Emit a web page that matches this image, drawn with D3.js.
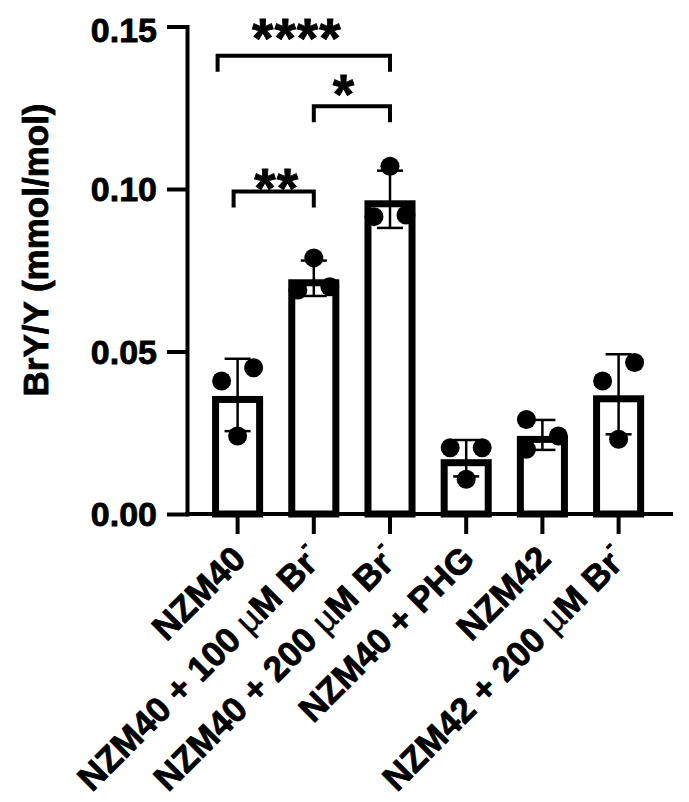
<!DOCTYPE html>
<html>
<head>
<meta charset="utf-8">
<script src="https://cdn.jsdelivr.net/npm/d3@7"></script>
<style>
  body { margin: 0; background: #fff; }
  text { font-family: "Liberation Sans", Arial, sans-serif; font-weight: bold; fill: #000; stroke: #000; stroke-width: 0.8px; }
</style>
</head>
<body>
<div id="chart-area"></div>
<script>
// groups on the x axis
const categories = ["NZM40", "NZM40 + 100 µM Br", "NZM40 + 200 µM Br", "NZM40 + PHG", "NZM42", "NZM42 + 200 µM Br"]
// replicate values per group (BrY/Y, mmol/mol)
const nzm40 = [0.0409, 0.0450, 0.0240]
const nzm40Br100 = [0.0788, 0.0689, 0.0699]
const nzm40Br200 = [0.1070, 0.0915, 0.0920]
const nzm40Phg = [0.0204, 0.0204, 0.0107]
const nzm42 = [0.0291, 0.0240, 0.0199]
const nzm42Br200 = [0.0409, 0.0466, 0.0230]
const yTicks = [0, 0.05, 0.10, 0.15]
// significance brackets: from group, to group, stars, bracket height
const comparisons = [
    {from: 0, to: 1, label: "**", level: 0.0992},
    {from: 1, to: 2, label: "*", level: 0.1255},
    {from: 0, to: 2, label: "****", level: 0.1410}
]

const groups = [nzm40, nzm40Br100, nzm40Br200, nzm40Phg, nzm42, nzm42Br200]
const data = categories.map((c, i) => ({
    name: c,
    values: groups[i],
    mean: d3.mean(groups[i]),
    sd: d3.deviation(groups[i])
}))

// layout
const W = 689, H = 802
const MARGIN = {LEFT: 187, TOP: 0}
const PLOT_W = 486
const FONT = 35
const AXIS_W = 4, BAR_STROKE = 7, R = 9.5, SPREAD = 16
// bracket tweaks (px): left-leg nudge, star x shift, star baseline below bracket
const BRACKET_STYLE = [
    {leg: -4, dx: 1, dy: 15},
    {leg: 0, dx: -8, dy: 7},
    {leg: -20, dx: -17, dy: 1}
]

const svg = d3.select("#chart-area").append("svg")
    .attr("width", W)
    .attr("height", H)

const g = svg.append("g")
    .attr("transform", `translate(${MARGIN.LEFT}, ${MARGIN.TOP})`)

const x = d3.scaleBand()
    .domain(categories)
    .range([12.5, 469.7])
    .paddingInner(0.33)
    .paddingOuter(0.165)

const y = d3.scaleLinear()
    .domain([0, 0.15])
    .range([514, 26.5])

const cx = d => x(d) + x.bandwidth() / 2

// bars: border drawn inside the bar outline
g.selectAll(".bar")
    .data(data)
    .enter()
    .append("rect")
    .attr("class", "bar")
    .attr("x", d => x(d.name) + BAR_STROKE / 2)
    .attr("width", x.bandwidth() - BAR_STROKE)
    .attr("y", d => y(d.mean) + 1 + BAR_STROKE / 2)
    .attr("height", d => y(0) - y(d.mean) - 1 - BAR_STROKE / 2)
    .attr("fill", "#fff")
    .attr("stroke", "#000")
    .attr("stroke-width", BAR_STROKE)

// side-by-side placement for points that would overlap (lowest goes left)
function spread(vals) {
    const order = d3.range(vals.length).sort((a, b) => vals[a] - vals[b])
    const slot = new Array(vals.length).fill(0)
    let cluster = [order[0]]
    const flush = () => {
        if (cluster.length > 1) cluster.forEach((k, j) => { slot[k] = j % 2 === 0 ? -1 : 1 })
    }
    for (let j = 1; j < order.length; j++) {
        const gap = y(vals[order[j - 1]]) - y(vals[order[j]])
        if (gap < 2 * R) cluster.push(order[j])
        else { flush(); cluster = [order[j]] }
    }
    flush()
    return slot
}

const points = []
data.forEach(d => {
    const slot = spread(d.values)
    d.values.forEach((v, i) => points.push({name: d.name, v: v, slot: slot[i]}))
})

g.selectAll(".dot")
    .data(points)
    .enter()
    .append("circle")
    .attr("class", "dot")
    .attr("cx", d => cx(d.name) + d.slot * SPREAD)
    .attr("cy", d => y(d.v))
    .attr("r", R)
    .attr("fill", "#000")

// error bars (mean ± SD)
const eb = g.selectAll(".err")
    .data(data)
    .enter()
    .append("g")
    .attr("class", "err")
    .attr("stroke", "#000")
    .attr("stroke-width", 2.5)
eb.append("line")
    .attr("x1", d => cx(d.name)).attr("x2", d => cx(d.name))
    .attr("y1", d => y(d.mean + d.sd)).attr("y2", d => y(d.mean - d.sd))
eb.selectAll(".cap")
    .data(d => [d.mean + d.sd, d.mean - d.sd].map(v => ({name: d.name, v: v})))
    .enter()
    .append("line")
    .attr("class", "cap")
    .attr("x1", d => cx(d.name) - 13).attr("x2", d => cx(d.name) + 13)
    .attr("y1", d => y(d.v)).attr("y2", d => y(d.v))

// y axis
const yAxisCall = d3.axisLeft(y)
    .tickValues(yTicks)
    .tickSize(20)
    .tickSizeOuter(0)
    .tickPadding(10)
    .tickFormat(d3.format(".2f"))
const yAxis = g.append("g")
    .attr("class", "yaxis")
    .call(yAxisCall)
yAxis.select(".domain").attr("stroke-width", AXIS_W).attr("stroke-linecap", "square")
yAxis.selectAll(".tick line").attr("stroke-width", AXIS_W)
yAxis.selectAll(".tick text")
    .attr("font-size", FONT - 1)
    .attr("dy", d => d === 0.15 ? "0.45em" : "0.35em")

// x axis
const xAxisCall = d3.axisBottom(x)
    .tickSize(20)
    .tickSizeOuter(0)
    .tickFormat("")
const xAxis = g.append("g")
    .attr("class", "xaxis")
    .attr("transform", `translate(0, ${y(0)})`)
    .call(xAxisCall)
xAxis.select(".domain").remove()
xAxis.selectAll(".tick line").attr("stroke-width", AXIS_W)
xAxis.append("line")
    .attr("x1", -AXIS_W / 2).attr("x2", PLOT_W)
    .attr("stroke", "#000")
    .attr("stroke-width", AXIS_W)

// rotated category labels
const labels = g.selectAll(".xlabel")
    .data(categories)
    .enter()
    .append("text")
    .attr("class", "xlabel")
    .attr("transform", d => `translate(${cx(d) + 10}, ${y(0) + 47}) rotate(-45)`)
    .attr("text-anchor", "end")
    .attr("font-size", FONT)
labels.each(function (d) {
    const t = d3.select(this)
    const parts = d.split("µ")
    if (parts.length === 1) { t.text(d); return }
    t.append("tspan").text(parts[0])
    t.append("tspan").attr("font-weight", "normal").attr("stroke-width", 0.4).text("µ")
    t.append("tspan").text(parts[1])
    t.append("tspan").attr("font-size", FONT * 0.6).attr("dy", "-0.9em").text("-")
})

// y axis title
svg.append("text")
    .attr("transform", "translate(48, 250) rotate(-90)")
    .attr("text-anchor", "middle")
    .attr("font-size", FONT)
    .text("BrY/Y (mmol/mol)")

// significance brackets
const br = g.selectAll(".bracket")
    .data(comparisons)
    .enter()
    .append("g")
    .attr("class", "bracket")
br.append("path")
    .attr("fill", "none")
    .attr("stroke", "#000")
    .attr("stroke-width", AXIS_W)
    .attr("d", (d, i) => {
        const x1 = cx(categories[d.from]) + BRACKET_STYLE[i].leg
        const x2 = cx(categories[d.to])
        const top = y(d.level), leg = top + 16
        return `M${x1},${leg}V${top}H${x2}V${leg}`
    })
br.append("text")
    .attr("x", (d, i) => (cx(categories[d.from]) + cx(categories[d.to])) / 2 + BRACKET_STYLE[i].dx)
    .attr("y", (d, i) => y(d.level) + BRACKET_STYLE[i].dy)
    .attr("text-anchor", "middle")
    .attr("font-size", 55)
    .attr("letter-spacing", 1)
    .attr("stroke-width", 0.5)
    .text(d => d.label)
</script>
</body>
</html>
